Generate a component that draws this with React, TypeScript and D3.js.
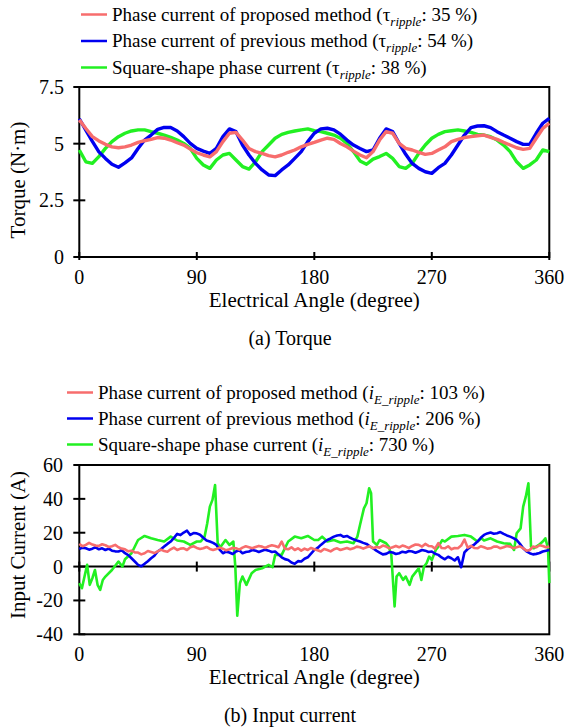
import { useMemo } from 'react';
import * as d3 from 'd3';

// x axis (electrical angle) ticks
const angleTicks = [0, 90, 180, 270, 360];
const torqueTicks = [0, 2.5, 5, 7.5];
const currentTicks = [-40, -20, 0, 20, 40, 60];

// (a) torque, sampled every 5 deg
const torqueStep = 5;
const torqueProposed = [
  6.05, 5.67, 5.31, 5.12, 4.97, 4.86,
  4.82, 4.86, 4.94, 5.06, 5.13, 5.19,
  5.27, 5.24, 5.16, 5.04, 4.94, 4.76,
  4.60, 4.50, 4.42, 4.65, 5.09, 5.46,
  5.50, 5.16, 4.79, 4.65, 4.57, 4.47,
  4.42, 4.50, 4.62, 4.72, 4.86, 4.97,
  5.06, 5.16, 5.24, 5.19, 5.01, 4.86,
  4.67, 4.50, 4.38, 4.65, 5.16, 5.53,
  5.46, 5.01, 4.79, 4.72, 4.62, 4.53,
  4.57, 4.72, 4.86, 5.09, 5.19, 5.27,
  5.31, 5.35, 5.38, 5.28, 5.19, 5.06,
  4.94, 4.82, 4.75, 4.79, 5.24, 5.67,
  5.90,
];
const torquePrevious = [
  6.10, 5.60, 5.10, 4.64, 4.35, 4.09,
  3.96, 4.15, 4.37, 4.79, 5.16, 5.38,
  5.63, 5.72, 5.71, 5.56, 5.31, 5.01,
  4.79, 4.67, 4.57, 4.79, 5.31, 5.65,
  5.53, 4.94, 4.50, 4.13, 3.84, 3.62,
  3.59, 3.84, 4.06, 4.35, 4.65, 5.09,
  5.46, 5.65, 5.68, 5.61, 5.42, 5.16,
  4.94, 4.79, 4.65, 4.72, 5.24, 5.65,
  5.53, 5.01, 4.53, 4.13, 3.91, 3.76,
  3.69, 3.94, 4.13, 4.50, 4.94, 5.38,
  5.71, 5.78, 5.79, 5.71, 5.53, 5.38,
  5.24, 5.09, 4.97, 4.97, 5.46, 5.90,
  6.12,
];
const torqueSquare = [
  4.72, 4.20, 4.13, 4.43, 4.79, 5.09,
  5.31, 5.46, 5.56, 5.61, 5.61, 5.53,
  5.46, 5.38, 5.28, 5.16, 5.01, 4.79,
  4.35, 4.06, 3.91, 4.28, 4.50, 4.57,
  4.28, 3.99, 3.88, 4.20, 4.65, 4.94,
  5.24, 5.41, 5.50, 5.56, 5.61, 5.65,
  5.57, 5.53, 5.46, 5.38, 5.24, 5.01,
  4.65, 4.24, 4.09, 4.32, 4.43, 4.57,
  4.35, 3.99, 3.91, 4.13, 4.57, 4.94,
  5.24, 5.41, 5.53, 5.57, 5.61, 5.56,
  5.50, 5.41, 5.38, 5.31, 5.16, 4.94,
  4.65, 4.20, 3.91, 4.06, 4.28, 4.72,
  4.65,
];

// (b) input current, sampled every 2.5 deg (one row = 20 deg)
const currentStep = 2.5;
const currentProposed = [
  13.4, 12.0, 12.8, 14.0, 13.0, 12.4, 12.2, 13.2,
  12.6, 11.6, 12.0, 12.8, 11.4, 10.6, 10.2, 9.0,
  9.4, 8.4, 8.3, 7.2, 7.9, 9.2, 8.6, 8.0,
  9.0, 10.0, 9.2, 8.8, 10.2, 11.2, 9.8, 10.6,
  10.8, 9.8, 11.4, 12.0, 11.0, 10.4, 10.8, 11.6,
  10.4, 9.8, 10.4, 11.2, 10.6, 9.6, 10.2, 11.0,
  10.8, 10.0, 11.2, 12.0, 11.4, 10.8, 11.6, 12.2,
  11.8, 11.0, 12.0, 12.6, 12.2, 11.4, 14.8, 10.6,
  10.2, 11.4, 9.8, 10.8, 9.4, 10.6, 9.8, 11.0,
  10.2, 9.6, 8.9, 10.4, 9.8, 9.0, 10.2, 10.8,
  9.8, 10.4, 11.0, 10.2, 10.8, 11.8, 11.4, 10.6,
  11.4, 12.0, 10.8, 11.6, 11.2, 12.4, 11.8, 10.8,
  11.4, 12.2, 11.4, 12.4, 11.8, 11.0, 12.2, 13.0,
  12.8, 11.8, 13.4, 12.2, 12.0, 10.6, 13.8, 11.0,
  10.8, 12.0, 10.2, 11.0, 10.8, 12.4, 16.0, 11.2,
  12.2, 11.0, 10.8, 12.0, 11.4, 10.6, 10.8, 11.8,
  11.8, 10.8, 11.4, 12.2, 11.8, 10.8, 11.4, 12.0,
  10.8, 9.4, 9.8, 11.8, 11.4, 12.6, 12.2, 11.4,
  11.8,
];
const currentPrevious = [
  10.4, 11.2, 10.8, 10.0, 10.6, 11.4, 10.2, 10.8,
  9.8, 10.6, 9.4, 9.0, 8.9, 9.6, 7.9, 6.8,
  4.9, 3.0, 1.0, 0.2, 1.6, 3.2, 4.9, 6.4,
  8.9, 10.2, 11.8, 13.4, 14.8, 17.0, 19.3, 18.6,
  20.1, 21.2, 18.7, 19.8, 19.6, 18.8, 17.0, 15.4,
  14.8, 14.0, 12.8, 10.0, 7.9, 8.8, 8.3, 7.4,
  8.9, 9.6, 7.9, 8.6, 8.9, 9.8, 9.4, 8.6,
  9.3, 10.0, 9.4, 8.6, 8.9, 7.2, 5.5, 4.4,
  3.9, 2.4, 1.6, 3.2, 3.0, 4.6, 5.5, 7.6,
  9.8, 11.0, 12.8, 14.4, 15.7, 16.6, 17.7, 18.4,
  18.7, 17.6, 18.1, 17.0, 16.1, 15.4, 14.8, 14.0,
  13.4, 12.0, 10.8, 9.4, 8.3, 7.2, 7.5, 8.6,
  8.3, 7.4, 7.9, 8.8, 8.3, 9.2, 8.9, 8.2,
  8.9, 9.8, 9.4, 8.6, 8.9, 7.6, 6.9, 5.4,
  4.3, 5.8, 4.9, 3.6, 5.5, -0.4, 8.4, 10.4,
  11.8, 13.0, 14.8, 17.0, 18.7, 19.6, 20.1, 19.4,
  19.7, 20.4, 19.3, 18.4, 17.7, 16.8, 15.7, 13.4,
  10.8, 9.0, 7.9, 7.2, 7.5, 8.0, 8.9, 9.4,
  9.8,
];
// square-shape current has sharp spikes, so it keeps its own angles
const squareAngles = [
  0, 2, 4, 6, 8, 10, 12, 14, 16, 18, 20, 25, 30, 33, 35, 40, 45, 50, 55, 60,
  65, 70, 75, 80, 85, 90, 93, 96, 98, 100, 102, 104, 106, 108, 112, 115, 118,
  119.5, 121, 123, 125, 128, 132, 135, 140, 145, 148, 150, 155, 160, 165, 170,
  175, 180, 183, 186, 190, 195, 200, 205, 210, 213, 215, 218, 220, 222, 223.5,
  225, 228, 230, 235, 237, 239, 241.5, 243, 245, 248, 250, 253, 255, 258, 260,
  262, 264, 266, 268, 270, 273, 275, 278, 280, 285, 290, 295, 300, 305, 308,
  310, 315, 320, 325, 330, 333, 335, 338, 340, 342, 344, 346, 348, 352, 355,
  357, 359, 360,
];
const squareCurrent = [
  -9.8, -12.8, -5.9, 1.0, -10.8, -6.9, -2.0, -10.8, -13.8, -7.9, -5.9, -2.0, 3.0, 0, 4.3, 7.9, 15.7, 18.1, 16.7, 15.7,
  14.8, 17.7, 15.4, 14.8, 12.8, 14.8, 14.8, 17.7, 25.6, 35.4, 39.4, 48.2, 13.8, 11.4, 15.7, 12.8, 14.8,
  0, -29, -9.8, -5.9, -10.8, -3.9, -2.0, -1.0, 1.0, -0.4, 6.9, 6.9, 14.8, 17.7, 16.7,
  18.1, 15.7, 15.7, 17.7, 14.8, 15.7, 14.2, 14.8, 13.8, 17.7, 24.6, 34.4, 37.4, 46.3, 43.3,
  14.8, 12.8, 15.7, 13.8, 11.8, 6.9, -23.6, -5.9, -3.9, -7.9, -5.9, -10.8, -5.9, -3.0, -1.0,
  -7.9, 0, 2.0, 5.9, 3.9, 9.8, 11.8, 15.7, 14.8, 17.7, 18.1, 18.7, 17.7, 14.8, 16.7,
  15.4, 16.7, 14.8, 13.8, 13.4, 9.8, 19.7, 22.6, 35.4, 41.3, 49.2, 11.8, 10.8, 12.8, 14.8,
  16.7, 10.8, -9.8,
];

const seriesNames = [
  'Phase current of proposed method',
  'Phase current of previous method',
  'Square-shape phase current',
];
const torqueRipple = ['35 %', '54 %', '38 %'];
const currentRipple = ['103 %', '206 %', '730 %'];
const colors = ['#f76d6d', '#0000f0', '#22f022'];

const FONT = "'Liberation Serif', 'Times New Roman', Tinos, 'DejaVu Serif', serif";
const txt = { fontFamily: FONT };

type Pt = [number, number];

function Legend({ x, y, gap, sub, ripples, italicSymbol }: any) {
  return (
    <g>
      {seriesNames.map((name, i) => (
        <g key={name} transform={`translate(${x},${y + i * gap})`}>
          <line x1={0} x2={26} y1={0} y2={0} stroke={colors[i]} strokeWidth={2.5} />
          <text x={31} y={6} fontSize={19} style={txt}>
            {name} (
            {italicSymbol ? <tspan fontStyle="italic">i</tspan> : <tspan>τ</tspan>}
            <tspan fontStyle="italic" fontSize={13} dy={5}>{sub}</tspan>
            <tspan dy={-5}>: {ripples[i]})</tspan>
          </text>
        </g>
      ))}
    </g>
  );
}

export default function App() {
  const x = d3.scaleLinear().domain([0, 360]).range([79.3, 549.3]);
  const yA = d3.scaleLinear().domain([0, 7.5]).range([257, 87]);
  const yB = d3.scaleLinear().domain([-40, 60]).range([634.3, 465]);

  const lineA = d3.line<Pt>().x(d => x(d[0])).y(d => yA(d[1]));
  const lineB = d3.line<Pt>().x(d => x(d[0])).y(d => yB(d[1]));

  const torqueSeries = useMemo(
    () => [torqueProposed, torquePrevious, torqueSquare].map(vals =>
      vals.map((v, i) => [i * torqueStep, v] as Pt)),
    []
  );
  const currentSeries = useMemo(() => [
    currentProposed.map((v, i) => [i * currentStep, v] as Pt),
    currentPrevious.map((v, i) => [i * currentStep, v] as Pt),
    squareCurrent.map((v, i) => [squareAngles[i], v] as Pt),
  ], []);

  const drawOrder = [2, 1, 0];
  const [x0, x1] = x.range();
  const bA = yA(0);
  const bB = yB(-40);

  return (
    <svg width={567} height={728} style={{ position: 'absolute', left: 0, top: 0, background: '#fff', fontFamily: FONT }}>
      {/* ---------- (a) Torque ---------- */}
      <Legend x={81} y={14.5} gap={26.5} sub="ripple" ripples={torqueRipple} italicSymbol={false} />

      <g>
        <rect x={x0} y={yA(7.5)} width={x1 - x0} height={bA - yA(7.5)} fill="none"
          stroke="#000" strokeWidth={2} />
        {torqueTicks.map(t => (
          <g key={t}>
            <line x1={x0 - 6} x2={x0 + 6} y1={yA(t)} y2={yA(t)} stroke="#000" strokeWidth={2} />
            <text x={64} y={yA(t) + 7} textAnchor="end" fontSize={20} style={txt}>{t}</text>
          </g>
        ))}
        {angleTicks.map(t => (
          <g key={t}>
            <line x1={x(t)} x2={x(t)} y1={bA - 5} y2={bA + 3} stroke="#000" strokeWidth={2} />
            <text x={x(t)} y={bA + 27} textAnchor="middle" fontSize={20} style={txt}>{t}</text>
          </g>
        ))}
        {drawOrder.map(i => (
          <path key={i} d={lineA(torqueSeries[i]) || ''} fill="none" stroke={colors[i]}
            strokeWidth={3.4} strokeLinejoin="round" />
        ))}
        <text x={(x0 + x1) / 2} y={bA + 50} textAnchor="middle" fontSize={21} style={txt}>Electrical Angle (degree)</text>
        <text transform="translate(25,180) rotate(-90)" textAnchor="middle" fontSize={21} style={txt}>Torque (N·m)</text>
        <text x={290} y={bA + 88} textAnchor="middle" fontSize={20} style={txt}>(a) Torque</text>
      </g>

      {/* ---------- (b) Input current ---------- */}
      <Legend x={67} y={392.5} gap={26} sub="E_ripple" ripples={currentRipple} italicSymbol={true} />

      <g>
        <rect x={x0} y={yB(60)} width={x1 - x0} height={bB - yB(60)} fill="none"
          stroke="#000" strokeWidth={2} />
        <line x1={x0} x2={x1} y1={yB(0)} y2={yB(0)} stroke="#000" strokeWidth={2} />
        {currentTicks.map(t => (
          <g key={t}>
            <line x1={x0 - 6} x2={x0 + 6} y1={yB(t)} y2={yB(t)} stroke="#000" strokeWidth={2} />
            <text x={63} y={yB(t) + 7} textAnchor="end" fontSize={20} style={txt}>{t}</text>
          </g>
        ))}
        {angleTicks.map(t => (
          <g key={t}>
            <line x1={x(t)} x2={x(t)} y1={yB(0) - 5} y2={yB(0) + 5} stroke="#000" strokeWidth={2} />
            <text x={x(t)} y={bB + 27} textAnchor="middle" fontSize={20} style={txt}>{t}</text>
          </g>
        ))}
        {drawOrder.map(i => (
          <path key={i} d={lineB(currentSeries[i]) || ''} fill="none" stroke={colors[i]}
            strokeWidth={2.6} strokeLinejoin="round" />
        ))}
        <text x={(x0 + x1) / 2} y={bB + 50} textAnchor="middle" fontSize={21} style={txt}>Electrical Angle (degree)</text>
        <text transform="translate(25,545) rotate(-90)" textAnchor="middle" fontSize={21} style={txt}>Input Current (A)</text>
        <text x={290} y={bB + 88} textAnchor="middle" fontSize={20} style={txt}>(b) Input current</text>
      </g>
    </svg>
  );
}
